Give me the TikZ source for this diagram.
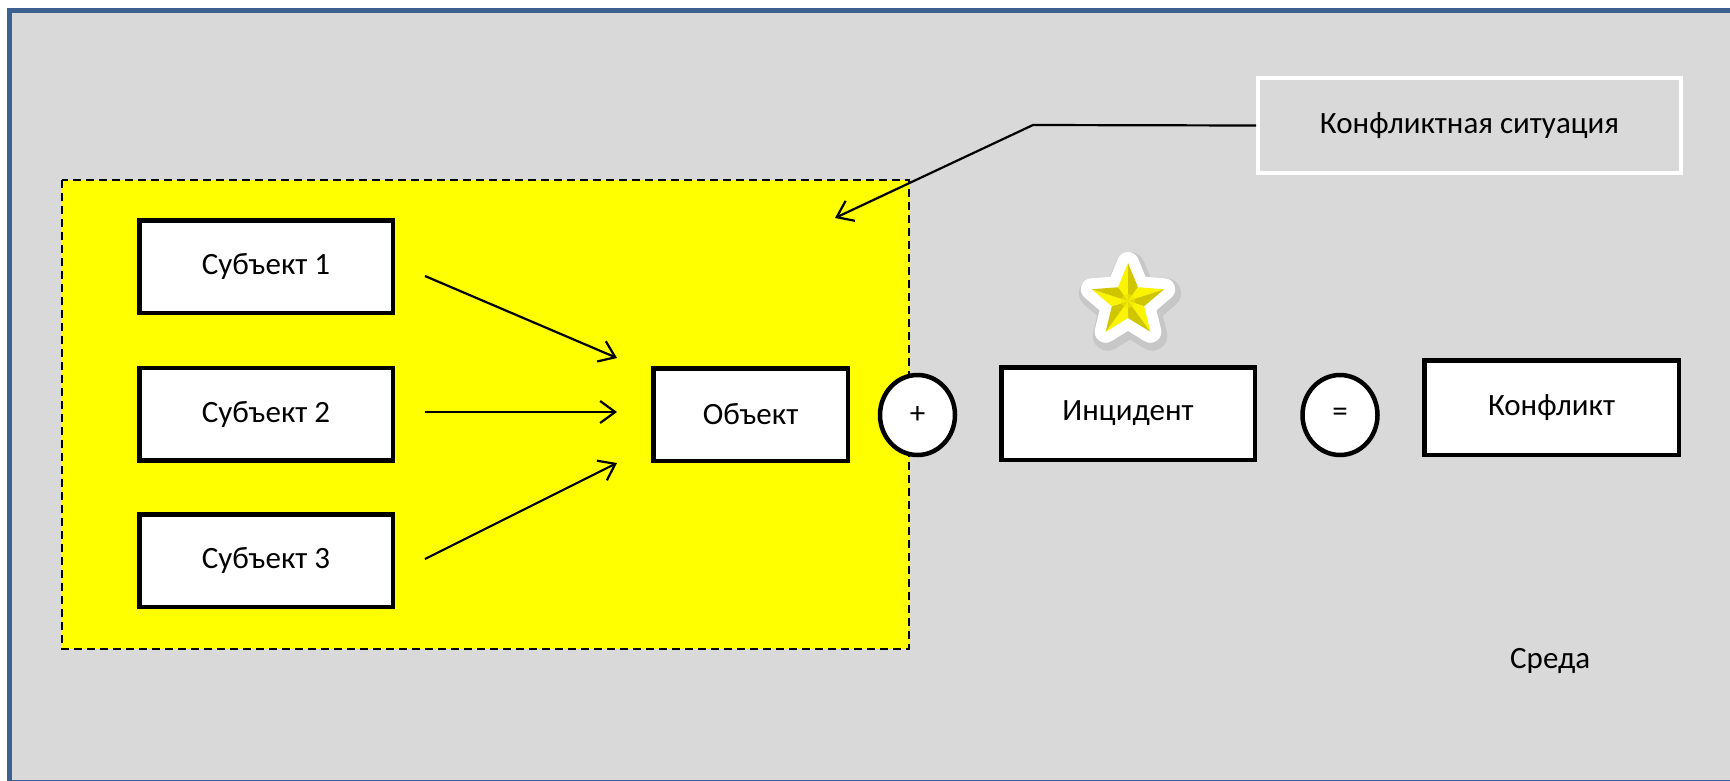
\documentclass[tikz,border=0pt]{standalone}
\usepackage{fontspec}
\setmainfont{Carlito}
\usetikzlibrary{arrows.meta,shapes.geometric}
\definecolor{bg}{HTML}{D9D9D9}
\definecolor{frameblue}{HTML}{3C6191}
\definecolor{hl}{HTML}{FFFF00}
\definecolor{starlight}{HTML}{FAF400}
\definecolor{starmid}{HTML}{F0E800}
\definecolor{stardark}{HTML}{CFC600}
\begin{document}
\begin{tikzpicture}[x=1pt,y=-1pt,
  txt/.style={font=\fontsize{31}{37}\selectfont},
  box/.style={txt,draw=black,line width=4.5pt,fill=white,rectangle,inner sep=0pt,
    minimum width=253.5pt,minimum height=92.5pt},
  oval/.style={txt,draw=black,line width=4.5pt,fill=white,ellipse,inner sep=0pt,
    minimum width=75pt,minimum height=80pt},
  callbox/.style={txt,draw=white,line width=4pt,rectangle,inner sep=0pt,
    minimum width=423pt,minimum height=95pt},
  arr/.style={line width=2.2pt,-{Straight Barb[length=15pt,width=22pt,line width=2.2pt]}},
  zone/.style={fill=hl,draw=black,line width=2pt,dash pattern=on 8pt off 5pt}
]
\useasboundingbox (0,0) rectangle (1730,780);
\fill[white] (0,0) rectangle (1730,780);
\draw[frameblue,line width=5pt,fill=bg] (9.5,10.5) rectangle (1745,782);

% highlighted zone
\draw[zone] (62,180) rectangle (909,649);

% nodes
\node[box] (s1) at (266,266.5) {Субъект 1};
\node[box] (s2) at (266,414) {Субъект 2};
\node[box] (s3) at (266,560.5) {Субъект 3};
\node[box,minimum width=194.5pt] (obj) at (750.5,414.5) {Объект};
\node[oval] (plus) at (917.5,415) {+};
\node[box] (inc) at (1128,413.5) {Инцидент};
\node[oval] (eq) at (1340,415) {=};
\node[box,minimum width=254.5pt,minimum height=94.5pt] (conf) at (1551.5,407.5) {Конфликт};
\node[callbox] (sit) at (1469.5,125.5) {Конфликтная ситуация};
\node[txt,anchor=base west,inner sep=0pt] (env) at (1510,668) {Среда};

% arrows
\coordinate (a1) at (425,276);
\coordinate (b1) at (617,358);
\coordinate (a2) at (425,412);
\coordinate (b2) at (617,412);
\coordinate (a3) at (425,559);
\coordinate (b3) at (617,463);
\draw[arr] (a1) -- (b1);
\draw[arr] (a2) -- (b2);
\draw[arr] (a3) -- (b3);

% callout
\coordinate (bend) at (1033,125);
\coordinate (ctip) at (835,218);
\draw[arr] (sit.west) -- (bend) -- (ctip);

% star
\def\Ro{38}
\def\Ri{17}
\begin{scope}[shift={(1128,301)}]
  \filldraw[black,opacity=0.08,line width=30pt,line join=round]
    [shift={(2,4)}]
    (-90:\Ro) -- (-54:\Ri) -- (-18:\Ro) -- (18:\Ri) -- (54:\Ro) -- (90:\Ri) -- (126:\Ro) -- (162:\Ri) -- (198:\Ro) -- (234:\Ri) -- cycle;
  \filldraw[white,line width=22pt,line join=round]
    (-90:\Ro) -- (-54:\Ri) -- (-18:\Ro) -- (18:\Ri) -- (54:\Ro) -- (90:\Ri) -- (126:\Ro) -- (162:\Ri) -- (198:\Ro) -- (234:\Ri) -- cycle;
  \foreach \k in {0,...,4}{
    \pgfmathsetmacro{\a}{-90+72*\k}
    \fill[starlight] (0,0) -- (\a-36:\Ri) -- (\a:\Ro) -- cycle;
    \fill[stardark] (0,0) -- (\a:\Ro) -- (\a+36:\Ri) -- cycle;
  }
  \fill[starmid,opacity=0.6] (0,0) circle (7pt);
\end{scope}
\end{tikzpicture}
\end{document}
